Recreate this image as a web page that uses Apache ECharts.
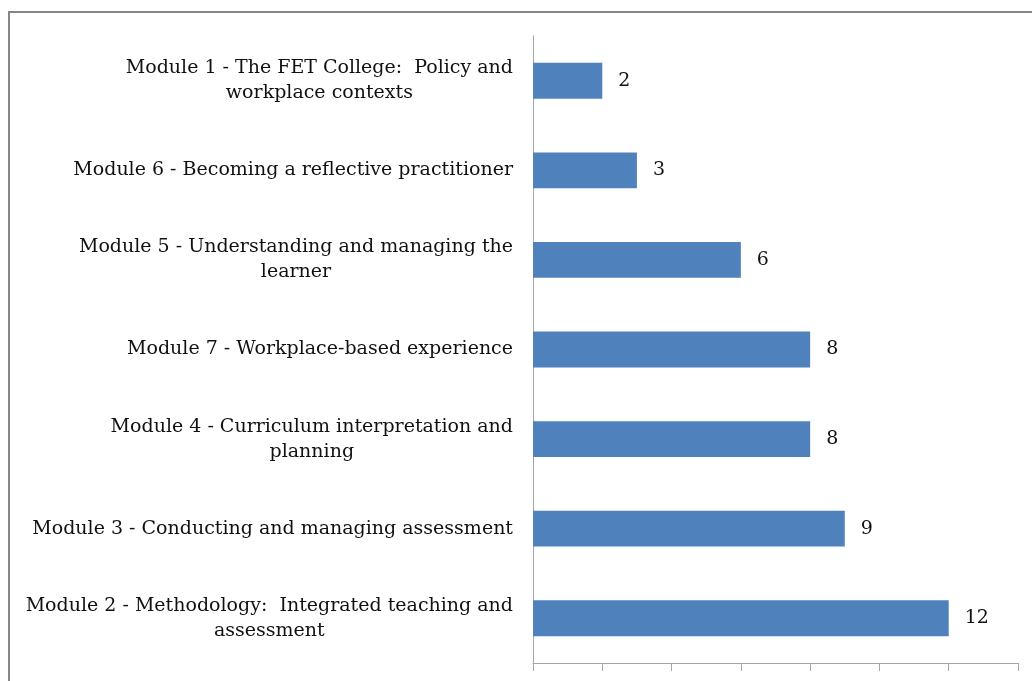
<!DOCTYPE html>
<html style="height: 100%">
<head>
  <meta charset="utf-8">
</head>
<body style="height: 100%; margin: 0; background: #fff">
  <div id="container" style="width: 1032px; height: 681px"></div>

  <script type="text/javascript" src="https://cdn.jsdelivr.net/npm/echarts@6/dist/echarts.min.js"></script>
  <script type="text/javascript">
    // top to bottom, each label split into its lines
    var modules = [
      ['Module 1 - The FET College:  Policy and', 'workplace contexts'],
      ['Module 6 - Becoming a reflective practitioner'],
      ['Module 5 - Understanding and managing the', 'learner'],
      ['Module 7 - Workplace-based experience'],
      ['Module 4 - Curriculum interpretation and', 'planning'],
      ['Module 3 - Conducting and managing assessment'],
      ['Module 2 - Methodology:  Integrated teaching and', 'assessment']
    ];
    var counts = [2, 3, 6, 8, 8, 9, 12];

    var serif = '"DejaVu Serif", "Liberation Serif", serif';
    var myChart = echarts.init(document.getElementById('container'));

    var option = {
      animation: false,
      graphic: [{
        type: 'rect',
        shape: { x: 9, y: 12, width: 1060, height: 720 },
        style: { fill: null, stroke: '#868686', lineWidth: 2 },
        silent: true
      }],
      grid: { left: 533, right: 14, top: 36, bottom: 18, containLabel: false },
      xAxis: {
        type: 'value',
        min: 0,
        max: 14,
        interval: 2,
        axisLine: { show: true, lineStyle: { color: '#a6a6a6', width: 1 } },
        axisTick: { show: true, length: 8, lineStyle: { color: '#a6a6a6' } },
        axisLabel: { show: false },
        splitLine: { show: false }
      },
      yAxis: {
        type: 'category',
        inverse: true,
        data: modules.map(function (m) { return m.join('\n'); }),
        axisLine: { show: true, lineStyle: { color: '#a6a6a6', width: 1 } },
        axisTick: { show: false },
        axisLabel: {
          margin: 20,
          align: 'right',
          formatter: function (v) {
            return v.split('\n').map(function (s) { return '{t|' + s + '}'; }).join('\n');
          },
          rich: {
            t: {
              align: 'center',
              fontFamily: serif,
              fontSize: 19,
              lineHeight: 25,
              color: '#111'
            }
          }
        }
      },
      series: [{
        type: 'bar',
        data: counts,
        barWidth: '40%',
        itemStyle: { color: '#4f81bd' },
        label: {
          show: true,
          position: 'right',
          distance: 16,
          fontFamily: serif,
          fontSize: 19,
          color: '#111'
        }
      }]
    };

    myChart.setOption(option);
    window.addEventListener('resize', myChart.resize);
  </script>
</body>
</html>
